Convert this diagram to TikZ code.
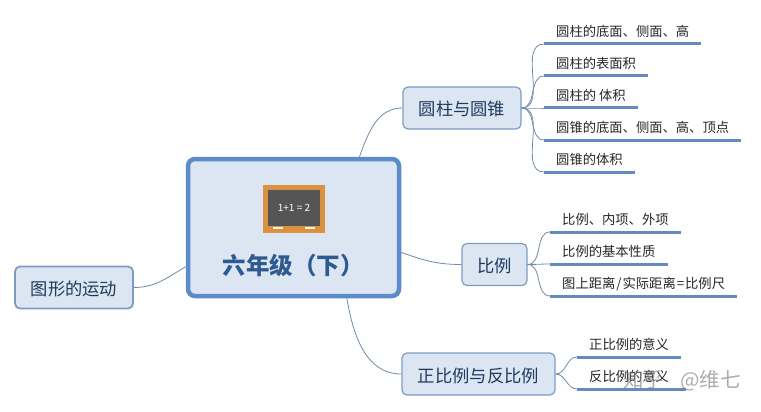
\documentclass[tikz,border=0pt]{standalone}
\usepackage{fontspec}
\setmainfont{Noto Sans CJK SC}
\definecolor{boxfill}{HTML}{DCE6F2}
\definecolor{rootline}{HTML}{5B8BC9}
\definecolor{topicline}{HTML}{7C9CC4}
\definecolor{linkline}{HTML}{6F8AA8}
\definecolor{leafline}{HTML}{658AC0}
\definecolor{titletext}{HTML}{2F5A8F}
\definecolor{topictext}{HTML}{1F3A5F}
\definecolor{frameline}{HTML}{DB9240}
\definecolor{boardfill}{HTML}{555555}

\begin{document}
\begin{tikzpicture}[x=1pt,y=-1pt]
\begin{scope}
	\tikzstyle{root}=[draw=rootline, fill=boxfill, line width=4.5pt, rounded corners=7pt, minimum width=211pt, minimum height=137pt]
	\tikzstyle{topic}=[draw=topicline, fill=boxfill, line width=1.2pt, rounded corners=5pt, minimum height=42pt, text height=17pt, text depth=1pt, text=topictext, font=\fontsize{17.3}{20}\selectfont]
	\tikzstyle{leaf}=[anchor=south west, inner xsep=12pt, inner ysep=2pt, text height=10.5pt, text depth=5pt, text=black!85, font=\fontsize{13.3}{16}\selectfont]
	\tikzstyle{link}=[draw=linkline, line width=0.8pt]
	\tikzstyle{chalk}=[fill=white!90!orange, minimum width=10pt, minimum height=2.5pt, inner sep=0pt]
	\useasboundingbox (0,0) rectangle (761,412);

	\node[root] (root) at (293.5,227.5) {};
	\node[anchor=west, text=titletext, font=\fontsize{23.5}{26}\selectfont\bfseries] (title) at (219,266) {六年级（下）};

	% blackboard
	\node[fill=frameline, minimum width=62pt, minimum height=48pt, inner sep=0pt] (frame) at (294,209) {};
	\node[fill=boardfill, minimum width=52pt, minimum height=36pt, inner sep=0pt, text=white, font=\fontsize{10}{12}\selectfont] (board) at (294,208) {1+1\ =\ 2};
	\node[chalk] (chalk1) at (278,228) {};
	\node[chalk] (chalk2) at (310,228) {};

	\node[topic, minimum width=118pt] (cyl) at (462,108) {圆柱与圆锥};
	\node[topic, minimum width=65pt] (ratio) at (494.5,264.5) {比例};
	\node[topic, minimum width=153pt] (prop) at (478.5,374) {正比例与反比例};
	\node[topic, minimum width=118pt, line width=1.8pt] (move) at (74,287.5) {图形的运动};

	\node[leaf] (c1) at (544,44) {圆柱的底面、侧面、高};
	\node[leaf] (c2) at (544,76) {圆柱的表面积};
	\node[leaf] (c3) at (544,108) {圆柱的 体积};
	\node[leaf] (c4) at (544,140) {圆锥的底面、侧面、高、顶点};
	\node[leaf] (c5) at (544,172) {圆锥的体积};

	\node[leaf] (r1) at (550,232) {比例、内项、外项};
	\node[leaf] (r2) at (550,264) {比例的基本性质};
	\node[leaf] (r3) at (550,296) {图上距离\kern1pt/\kern1pt实际距离\kern1pt=\kern1pt比例尺};

	\node[leaf] (p1) at (577,357) {正比例的意义};
	\node[leaf] (p2) at (577,389) {反比例的意义\kern5pt};

	\foreach \n in {c1,c2,c3,c4,c5,r1,r2,r3,p1,p2}
		\draw[leafline, line width=3pt] (\n.south west) -- (\n.south east);

	\draw[link] (root.47) to[out=70,in=180] (cyl.west);
	\draw[link] (root.-13) to[out=-20,in=180] (ratio.west);
	\draw[link] (root.-53) to[out=-80,in=180] (prop.west);
	\draw[link] (move.east) to[out=0,in=-150] (root.200);

	\foreach \n in {c1,c2,c3,c4,c5}
		\draw[link] (cyl.east) to[out=0,in=180] (\n.south west);
	\foreach \n in {r1,r2,r3}
		\draw[link] (ratio.east) to[out=0,in=180] (\n.south west);
	\foreach \n in {p1,p2}
		\draw[link] (prop.east) to[out=0,in=180] (\n.south west);

	\node[text=black!50, opacity=0.65, font=\fontsize{20.5}{23}\selectfont] (mark) at (682,381) {知乎\hspace{16pt}@维七};
\end{scope}
\end{tikzpicture}
\end{document}
